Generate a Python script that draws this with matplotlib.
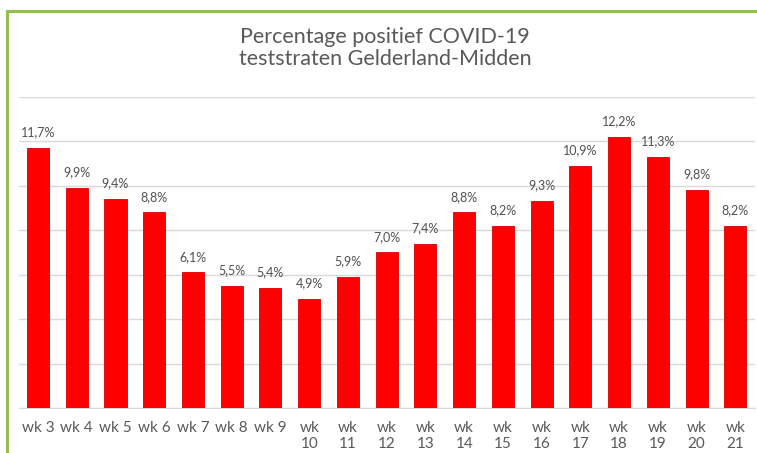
import matplotlib
matplotlib.use("Agg")
import matplotlib.pyplot as plt
from matplotlib.lines import Line2D

weeks = ["wk 3", "wk 4", "wk 5", "wk 6", "wk 7", "wk 8", "wk 9",
         "wk\n10", "wk\n11", "wk\n12", "wk\n13", "wk\n14", "wk\n15", "wk\n16",
         "wk\n17", "wk\n18", "wk\n19", "wk\n20", "wk\n21"]
values = [11.7, 9.9, 9.4, 8.8, 6.1, 5.5, 5.4, 4.9, 5.9, 7.0, 7.4, 8.8, 8.2, 9.3,
          10.9, 12.2, 11.3, 9.8, 8.2]
title = "Percentage positief COVID-19\nteststraten Gelderland-Midden"

plt.rcParams['font.family'] = ['Lato', 'DejaVu Sans']

fig = plt.figure(figsize=(7.57, 4.53), dpi=100)
ax = fig.add_axes([0.0246, 0.0993, 0.9724, 0.6867])

x = range(len(values))
ax.bar(x, values, width=0.57, color="#FF0000", edgecolor="#D80000", linewidth=0.6, zorder=3)
for xi, v in zip(x, values):
    ax.annotate(f"{v:.1f}".replace(".", ",") + "%", (xi, v), xytext=(0, 7),
                textcoords="offset points", ha="center", va="bottom",
                fontsize=9, color="#505050")

ax.set_xlim(-0.5, len(values) - 0.5)
ax.set_ylim(0, 14)
ax.set_yticks([0, 2, 4, 6, 8, 10, 12, 14])
ax.set_yticklabels([])
ax.tick_params(axis="y", length=0)
ax.tick_params(axis="x", length=0, pad=9, labelsize=11, labelcolor="#595959")
ax.set_xticks(list(x))
ax.set_xticklabels(weeks, linespacing=1.2)
ax.grid(axis="y", color="#D9D9D9", linewidth=1, zorder=0)
for s in ["top", "right", "left"]:
    ax.spines[s].set_visible(False)
ax.spines["bottom"].set_color("#D9D9D9")

fig.text(0.509, 0.894, title, ha="center", va="center", fontsize=15.5,
         color="#595959", linespacing=1.1)

# green frame (left and top edges)
fig.add_artist(Line2D([7/757, 7/757], [0, 1 - 11/453], color="#92C050", linewidth=2.2))
fig.add_artist(Line2D([7/757, 1], [1 - 11/453, 1 - 11/453], color="#92C050", linewidth=2.2))

fig.savefig("out.png", dpi=100)
